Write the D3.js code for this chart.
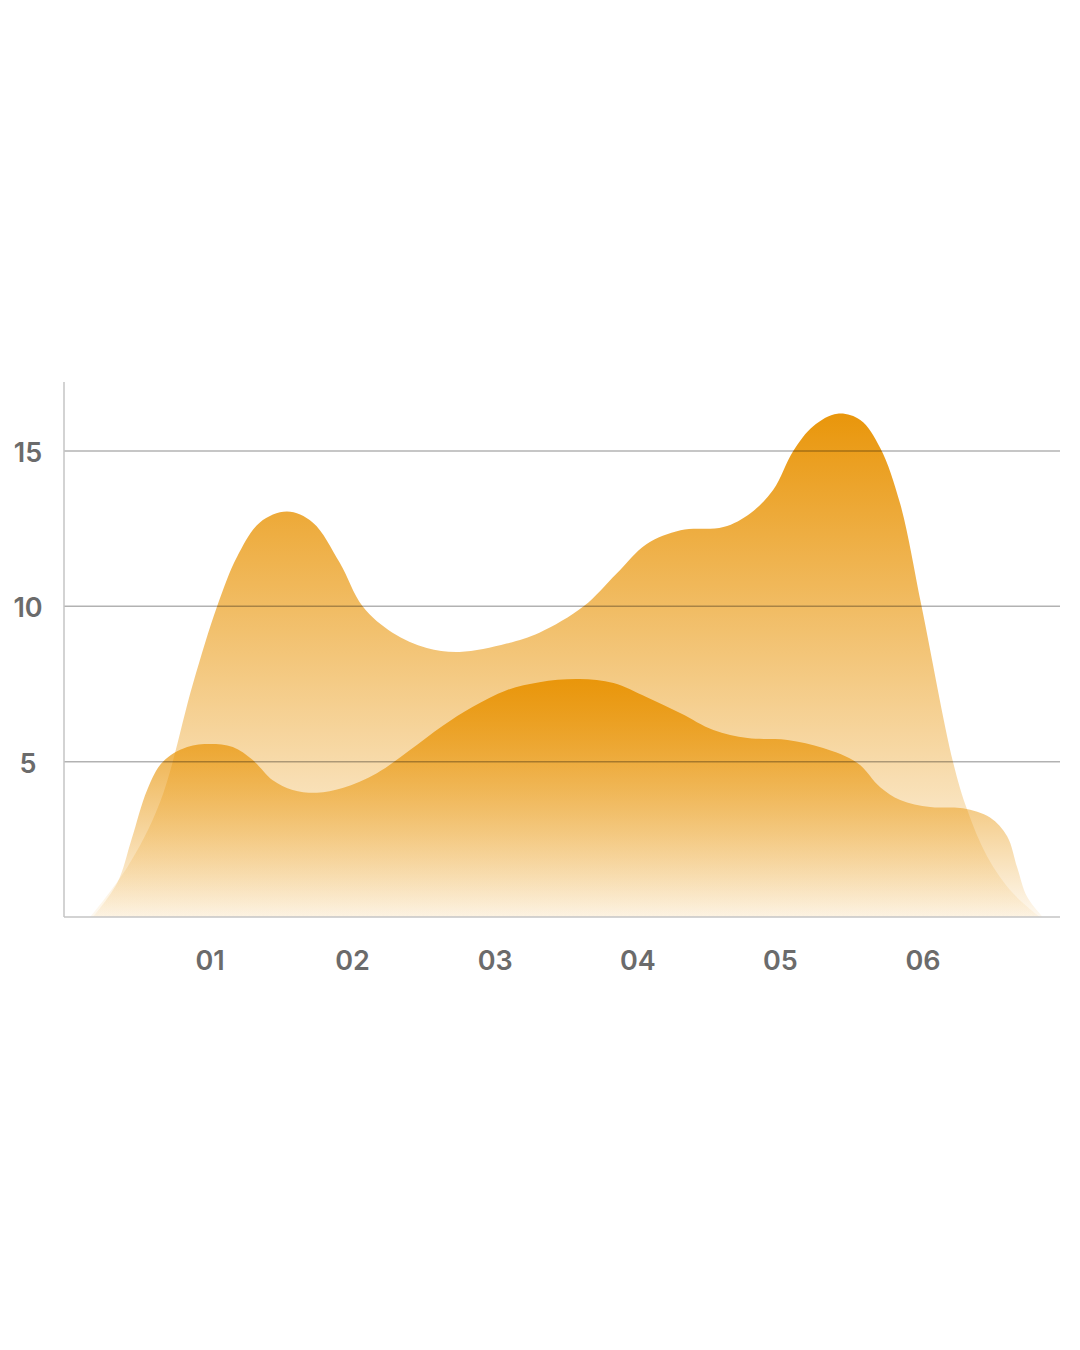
<!DOCTYPE html>
<html>
<head>
<meta charset="utf-8">
<script src="https://cdn.jsdelivr.net/npm/d3@7"></script>
<style>
  body { margin: 0; background: #fff; }
  svg { display: block; }
  .tick-label { font-family: "Inter", "Noto Sans", sans-serif; font-weight: 600; fill: #6b6b6b; }
</style>
</head>
<body>
<div class="chart"></div>
<script>
// Category labels on the x axis (positions 1..6)
var categories = ["01", "02", "03", "04", "05", "06"];
var yTicks = [5, 10, 15];

// Back (tall) series, x in category units
var backX = [0.16, 0.42, 0.65, 0.88, 1.05, 1.19, 1.35, 1.54, 1.72, 1.91, 2.07, 2.28, 2.52, 2.75,
             3.08, 3.31, 3.62, 3.85, 4.06, 4.30, 4.60, 4.79, 4.95, 5.09, 5.23, 5.40, 5.56, 5.70,
             5.84, 5.99, 6.21, 6.31, 6.45, 6.63, 6.82];
var backY = [0, 1.6, 3.7, 7.5, 10, 11.6, 12.7, 13.05, 12.7, 11.4, 10, 9.15, 8.66, 8.53,
             8.8, 9.15, 10, 11.05, 12.0, 12.45, 12.55, 13.0, 13.75, 15, 15.8, 16.2, 16.0, 15.1,
             13.3, 10, 5, 3.45, 1.95, 0.77, 0];

// Front (lower) series
var frontX = [0.18, 0.35, 0.45, 0.56, 0.67, 0.84, 1.0, 1.16, 1.30, 1.44, 1.58, 1.75, 1.93, 2.17,
              2.40, 2.63, 2.84, 3.08, 3.31, 3.59, 3.83, 4.06, 4.30, 4.53, 4.77, 5.05, 5.30, 5.54,
              5.70, 5.84, 6.05, 6.28, 6.47, 6.59, 6.66, 6.73, 6.84];
var frontY = [0, 1.1, 2.5, 4.1, 5, 5.47, 5.57, 5.47, 5.05, 4.4, 4.09, 4.0, 4.15, 4.63,
              5.37, 6.15, 6.76, 7.3, 7.56, 7.66, 7.53, 7.08, 6.56, 6.02, 5.76, 5.7, 5.44, 4.96,
              4.18, 3.77, 3.54, 3.5, 3.2, 2.6, 1.6, 0.65, 0];

var svgWidth = 1080;
var svgHeight = 1350;

// plot frame
var plotLeft = 64, plotRight = 1060, plotTop = 382, plotBottom = 917;

var svg = d3.select(".chart")
            .append("svg")
            .attr("width", svgWidth)
            .attr("height", svgHeight);

var xScale = d3.scaleLinear().domain([1, 6]).range([210, 923]);
var yScale = d3.scaleLinear().domain([0, 15]).range([plotBottom, 451]);

// gradients, one per area (bounding box)
var defs = svg.append("defs");
function addGradient(id) {
    var g = defs.append("linearGradient")
                .attr("id", id)
                .attr("x1", 0).attr("y1", 0)
                .attr("x2", 0).attr("y2", 1);
    g.append("stop").attr("offset", "0%").attr("stop-color", "#e9960b").attr("stop-opacity", 1);
    g.append("stop").attr("offset", "100%").attr("stop-color", "#e9960b").attr("stop-opacity", 0.06);
}
addGradient("gradBack");
addGradient("gradFront");

var area = d3.area()
             .x(d => xScale(d[0]))
             .y0(yScale(0))
             .y1(d => yScale(d[1]))
             .curve(d3.curveCatmullRom.alpha(0.5));

var backData = backX.map((x, i) => [x, backY[i]]);
var frontData = frontX.map((x, i) => [x, frontY[i]]);

svg.append("path")
   .datum(backData)
   .attr("d", area)
   .attr("fill", "url(#gradBack)");

svg.append("path")
   .datum(frontData)
   .attr("d", area)
   .attr("fill", "url(#gradFront)");

// gridlines on top
svg.append("g")
   .selectAll("line")
   .data(yTicks)
   .enter()
   .append("line")
   .attr("x1", plotLeft)
   .attr("x2", plotRight)
   .attr("y1", d => yScale(d))
   .attr("y2", d => yScale(d))
   .attr("stroke", "#000")
   .attr("stroke-opacity", 0.3)
   .attr("stroke-width", 1.5);

// axes lines
svg.append("line")
   .attr("x1", plotLeft).attr("x2", plotLeft)
   .attr("y1", plotTop).attr("y2", plotBottom)
   .attr("stroke", "#c4c4c4").attr("stroke-width", 1.5);
svg.append("line")
   .attr("x1", plotLeft).attr("x2", plotRight)
   .attr("y1", plotBottom).attr("y2", plotBottom)
   .attr("stroke", "#c4c4c4").attr("stroke-width", 1.5);

// y labels
svg.append("g")
   .selectAll("text")
   .data(yTicks)
   .enter()
   .append("text")
   .attr("class", "tick-label")
   .attr("x", 28)
   .attr("y", d => yScale(d) + 11)
   .attr("text-anchor", "middle")
   .attr("font-size", 27)
   .text(d => d);

// x labels
svg.append("g")
   .selectAll("text")
   .data(categories)
   .enter()
   .append("text")
   .attr("class", "tick-label")
   .attr("x", (d, i) => xScale(i + 1))
   .attr("y", 970)
   .attr("text-anchor", "middle")
   .attr("font-size", 27)
   .text(d => d);
</script>
</body>
</html>
